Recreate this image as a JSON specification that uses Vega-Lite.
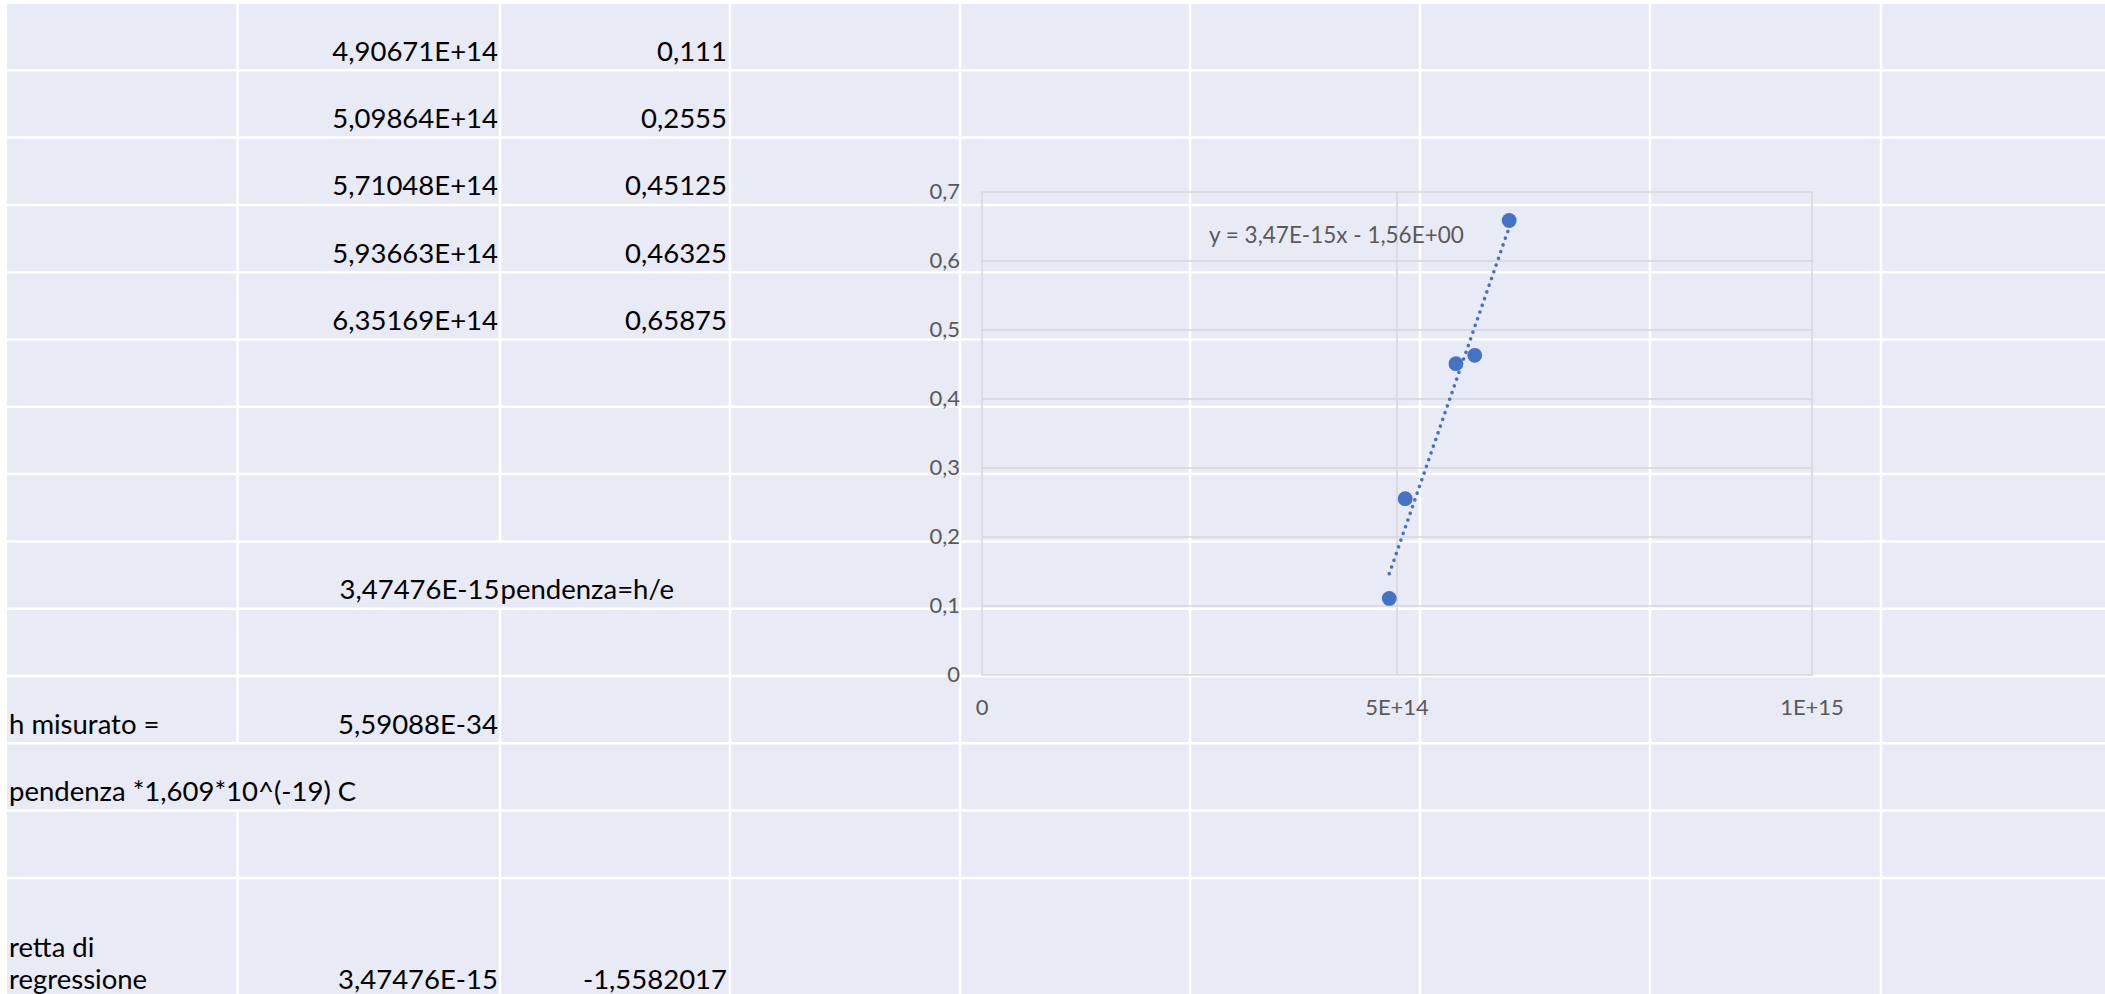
{
  "$schema": "https://vega.github.io/schema/vega-lite/v6.json",
  "width": 2105,
  "height": 994,
  "autosize": {"type": "none"},
  "padding": 0,
  "background": "#E8EAF5",
  "config": {"view": {"stroke": null}, "font": "Lato", "text": {"font": "Lato"}},
  "datasets": {
    "one": [{}],
    "points": [
      {"freq": 4.90671e14, "V": 0.111},
      {"freq": 5.09864e14, "V": 0.2555},
      {"freq": 5.71048e14, "V": 0.45125},
      {"freq": 5.93663e14, "V": 0.46325},
      {"freq": 6.35169e14, "V": 0.65875}
    ],
    "margins": [
      {"x0": 0, "x1": 7, "y0": 0, "y1": 994},
      {"x0": 0, "x1": 2105, "y0": 0, "y1": 4}
    ],
    "vlines": [
      {"x": 237.5, "y0": 4, "y1": 743.3},
      {"x": 237.5, "y0": 810.6, "y1": 994},
      {"x": 500, "y0": 4, "y1": 541.4},
      {"x": 500, "y0": 608.7, "y1": 994},
      {"x": 730, "y0": 4, "y1": 994},
      {"x": 960, "y0": 4, "y1": 994},
      {"x": 1190, "y0": 4, "y1": 994},
      {"x": 1420, "y0": 4, "y1": 994},
      {"x": 1650, "y0": 4, "y1": 994},
      {"x": 1881, "y0": 4, "y1": 994}
    ],
    "hlines": [
      {"y": 70.3}, {"y": 137.6}, {"y": 204.9}, {"y": 272.2}, {"y": 339.5},
      {"y": 406.8}, {"y": 474.1}, {"y": 541.4}, {"y": 608.7}, {"y": 676},
      {"y": 743.3}, {"y": 810.6}, {"y": 877.9}
    ],
    "cellsRight": [
      {"x": 498, "y": 60.8, "t": "4,90671E+14"},
      {"x": 727, "y": 60.8, "t": "0,111"},
      {"x": 498, "y": 128.1, "t": "5,09864E+14"},
      {"x": 727, "y": 128.1, "t": "0,2555"},
      {"x": 498, "y": 195.4, "t": "5,71048E+14"},
      {"x": 727, "y": 195.4, "t": "0,45125"},
      {"x": 498, "y": 262.7, "t": "5,93663E+14"},
      {"x": 727, "y": 262.7, "t": "0,46325"},
      {"x": 498, "y": 330, "t": "6,35169E+14"},
      {"x": 727, "y": 330, "t": "0,65875"},
      {"x": 499.5, "y": 599.2, "t": "3,47476E-15"},
      {"x": 498, "y": 733.8, "t": "5,59088E-34"},
      {"x": 498, "y": 989, "t": "3,47476E-15"},
      {"x": 727, "y": 989, "t": "-1,5582017"}
    ],
    "cellsLeft": [
      {"x": 500.5, "y": 599.2, "t": "pendenza=h/e"},
      {"x": 9, "y": 733.8, "t": "h misurato ="},
      {"x": 9, "y": 801.1, "t": "pendenza *1,609*10^(-19) C"},
      {"x": 9, "y": 957, "t": "retta di"},
      {"x": 9, "y": 989, "t": "regressione"}
    ],
    "yticks": [
      {"v": 0, "label": "0"}, {"v": 0.1, "label": "0,1"}, {"v": 0.2, "label": "0,2"},
      {"v": 0.3, "label": "0,3"}, {"v": 0.4, "label": "0,4"}, {"v": 0.5, "label": "0,5"},
      {"v": 0.6, "label": "0,6"}, {"v": 0.7, "label": "0,7"}
    ],
    "ygrid": [{"v": 0.1}, {"v": 0.2}, {"v": 0.3}, {"v": 0.4}, {"v": 0.5}, {"v": 0.6}],
    "xticks": [
      {"v": 0, "label": "0"}, {"v": 5e14, "label": "5E+14"}, {"v": 1e15, "label": "1E+15"}
    ],
    "equation": [{"x": 4.27e14, "y": 0.636, "label": "y = 3,47E-15x - 1,56E+00"}]
  },
  "layer": [
    {
      "layer": [
        {
          "data": {"name": "margins"},
          "mark": {"type": "rect", "fill": "#FFFFFF"},
          "encoding": {
            "x": {"field": "x0", "type": "quantitative", "scale": {"domain": [0, 2105], "range": [0, 2105], "nice": false, "zero": false}, "axis": null},
            "x2": {"field": "x1"},
            "y": {"field": "y0", "type": "quantitative", "scale": {"domain": [0, 994], "range": [0, 994], "nice": false, "zero": false}, "axis": null},
            "y2": {"field": "y1"}
          }
        },
        {
          "data": {"name": "vlines"},
          "mark": {"type": "rule", "stroke": "#FFFFFF", "strokeWidth": 2.5},
          "encoding": {
            "x": {"field": "x", "type": "quantitative", "scale": {"domain": [0, 2105], "range": [0, 2105], "nice": false, "zero": false}, "axis": null},
            "y": {"field": "y0", "type": "quantitative", "scale": {"domain": [0, 994], "range": [0, 994], "nice": false, "zero": false}, "axis": null},
            "y2": {"field": "y1"}
          }
        },
        {
          "data": {"name": "hlines"},
          "mark": {"type": "rule", "stroke": "#FFFFFF", "strokeWidth": 2.5},
          "encoding": {
            "y": {"field": "y", "type": "quantitative", "scale": {"domain": [0, 994], "range": [0, 994], "nice": false, "zero": false}, "axis": null},
            "x": {"datum": 7, "type": "quantitative", "scale": {"domain": [0, 2105], "range": [0, 2105], "nice": false, "zero": false}, "axis": null},
            "x2": {"datum": 2105}
          }
        },
        {
          "data": {"name": "cellsRight"},
          "mark": {"type": "text", "align": "right", "baseline": "alphabetic", "fontSize": 27.5, "color": "#000000"},
          "encoding": {
            "x": {"field": "x", "type": "quantitative", "scale": {"domain": [0, 2105], "range": [0, 2105], "nice": false, "zero": false}, "axis": null},
            "y": {"field": "y", "type": "quantitative", "scale": {"domain": [0, 994], "range": [0, 994], "nice": false, "zero": false}, "axis": null},
            "text": {"field": "t"}
          }
        },
        {
          "data": {"name": "cellsLeft"},
          "mark": {"type": "text", "align": "left", "baseline": "alphabetic", "fontSize": 27.5, "color": "#000000"},
          "encoding": {
            "x": {"field": "x", "type": "quantitative", "scale": {"domain": [0, 2105], "range": [0, 2105], "nice": false, "zero": false}, "axis": null},
            "y": {"field": "y", "type": "quantitative", "scale": {"domain": [0, 994], "range": [0, 994], "nice": false, "zero": false}, "axis": null},
            "text": {"field": "t"}
          }
        }
      ]
    },
    {
      "layer": [
        {
          "data": {"name": "ygrid"},
          "mark": {"type": "rule", "stroke": "#D6D6D9", "strokeWidth": 1.5},
          "encoding": {
            "y": {"field": "v", "type": "quantitative", "scale": {"domain": [0, 0.7], "range": [675, 192], "nice": false, "zero": false}, "axis": null},
            "x": {"datum": 0, "type": "quantitative", "scale": {"domain": [0, 1e15], "range": [982, 1812], "nice": false, "zero": false}, "axis": null},
            "x2": {"datum": 1e15}
          }
        },
        {
          "data": {"name": "one"},
          "mark": {"type": "rule", "stroke": "#D6D6D9", "strokeWidth": 1.5},
          "encoding": {
            "x": {"datum": 5e14, "type": "quantitative", "scale": {"domain": [0, 1e15], "range": [982, 1812], "nice": false, "zero": false}, "axis": null},
            "y": {"datum": 0, "type": "quantitative", "scale": {"domain": [0, 0.7], "range": [675, 192], "nice": false, "zero": false}, "axis": null},
            "y2": {"datum": 0.7}
          }
        },
        {
          "data": {"name": "one"},
          "mark": {"type": "rect", "filled": false, "fill": null, "stroke": "#D6D6D9", "strokeWidth": 1.5},
          "encoding": {
            "x": {"datum": 0, "type": "quantitative", "scale": {"domain": [0, 1e15], "range": [982, 1812], "nice": false, "zero": false}, "axis": null},
            "x2": {"datum": 1e15},
            "y": {"datum": 0, "type": "quantitative", "scale": {"domain": [0, 0.7], "range": [675, 192], "nice": false, "zero": false}, "axis": null},
            "y2": {"datum": 0.7}
          }
        },
        {
          "data": {"name": "points"},
          "transform": [{"regression": "V", "on": "freq"}],
          "mark": {"type": "line", "stroke": "#4472C4", "strokeWidth": 3.5, "strokeDash": [0.1, 7], "strokeCap": "round"},
          "encoding": {
            "x": {"field": "freq", "type": "quantitative", "scale": {"domain": [0, 1e15], "range": [982, 1812], "nice": false, "zero": false}, "axis": null},
            "y": {"field": "V", "type": "quantitative", "scale": {"domain": [0, 0.7], "range": [675, 192], "nice": false, "zero": false}, "axis": null}
          }
        },
        {
          "data": {"name": "points"},
          "mark": {"type": "point", "filled": true, "fill": "#4472C4", "opacity": 1, "size": 220, "shape": "circle"},
          "encoding": {
            "x": {"field": "freq", "type": "quantitative", "scale": {"domain": [0, 1e15], "range": [982, 1812], "nice": false, "zero": false}, "axis": null},
            "y": {"field": "V", "type": "quantitative", "scale": {"domain": [0, 0.7], "range": [675, 192], "nice": false, "zero": false}, "axis": null}
          }
        },
        {
          "data": {"name": "yticks"},
          "mark": {"type": "text", "align": "right", "baseline": "middle", "dx": -22, "fontSize": 22, "color": "#595959"},
          "encoding": {
            "x": {"datum": 0, "type": "quantitative", "scale": {"domain": [0, 1e15], "range": [982, 1812], "nice": false, "zero": false}, "axis": null},
            "y": {"field": "v", "type": "quantitative", "scale": {"domain": [0, 0.7], "range": [675, 192], "nice": false, "zero": false}, "axis": null},
            "text": {"field": "label"}
          }
        },
        {
          "data": {"name": "xticks"},
          "mark": {"type": "text", "align": "center", "baseline": "middle", "dy": 33, "fontSize": 22, "color": "#595959"},
          "encoding": {
            "x": {"field": "v", "type": "quantitative", "scale": {"domain": [0, 1e15], "range": [982, 1812], "nice": false, "zero": false}, "axis": null},
            "y": {"datum": 0, "type": "quantitative", "scale": {"domain": [0, 0.7], "range": [675, 192], "nice": false, "zero": false}, "axis": null},
            "text": {"field": "label"}
          }
        },
        {
          "data": {"name": "equation"},
          "mark": {"type": "text", "align": "center", "baseline": "middle", "fontSize": 22.5, "color": "#595959"},
          "encoding": {
            "x": {"field": "x", "type": "quantitative", "scale": {"domain": [0, 1e15], "range": [982, 1812], "nice": false, "zero": false}, "axis": null},
            "y": {"field": "y", "type": "quantitative", "scale": {"domain": [0, 0.7], "range": [675, 192], "nice": false, "zero": false}, "axis": null},
            "text": {"field": "label"}
          }
        }
      ]
    }
  ],
  "resolve": {"scale": {"x": "independent", "y": "independent"}}
}
